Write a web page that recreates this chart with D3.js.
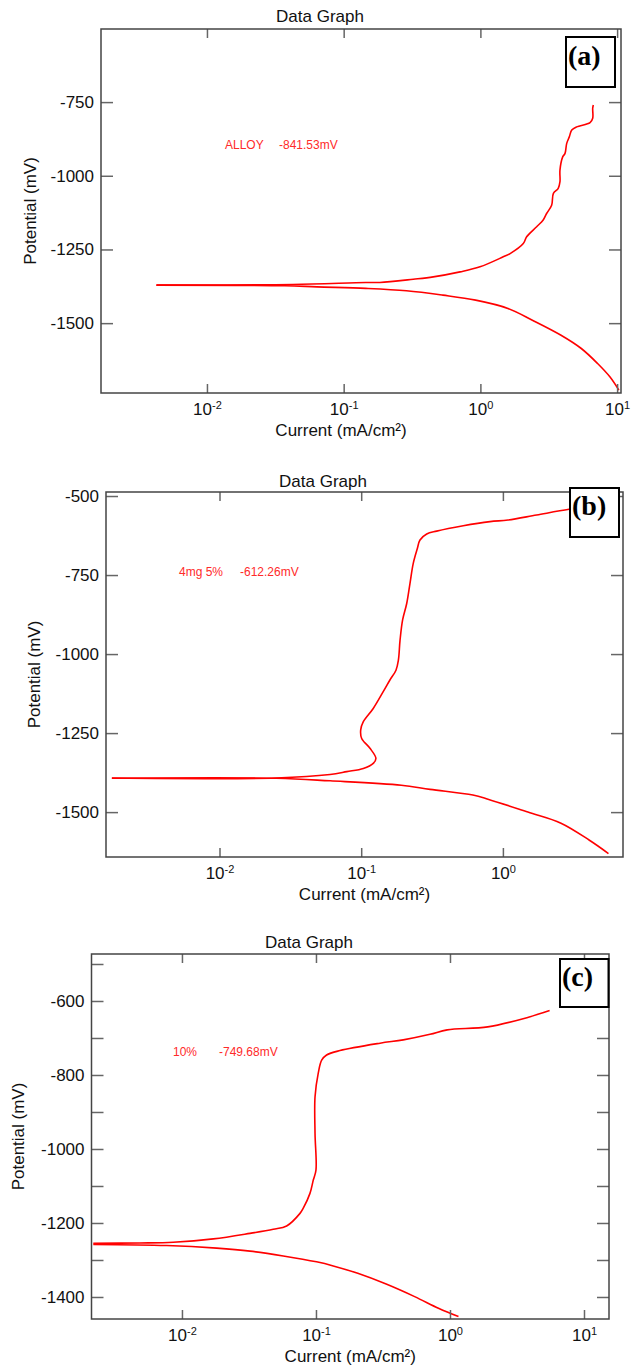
<!DOCTYPE html>
<html>
<head>
<meta charset="utf-8">
<style>
  body { margin: 0; background: #fff; }
  svg { display: block; font-family: "Liberation Sans", Arial, sans-serif; }
</style>
</head>
<body>
<div id="chart"></div>
<script src="https://d3js.org/d3.v7.min.js"></script>
<script>
// ---- data: [current mA/cm2, potential mV] ----
// (a) ALLOY
const alloyCathodic = [[10.3,-1727],[8.85,-1682],[7.2,-1637],[5.47,-1586],[3.89,-1541],[2.40,-1490],[1.59,-1450],[0.923,-1422],[0.532,-1405],[0.288,-1390],[0.145,-1382],[0.0638,-1377],[0.037,-1373],[0.00427,-1371]];
const alloyAnodic = [[0.00427,-1371],[0.0424,-1369],[0.145,-1362],[0.184,-1362],[0.323,-1351],[0.452,-1343],[0.710,-1326],[0.993,-1309],[1.47,-1275],[1.65,-1264],[2.06,-1230],[2.18,-1207],[2.58,-1173],[2.88,-1150],[3.05,-1128],[3.32,-1100],[3.42,-1060],[3.71,-1043],[3.82,-1020],[3.82,-981],[4.0,-936],[4.16,-924],[4.28,-890],[4.47,-868],[4.66,-845],[5.06,-834],[6.34,-820],[6.63,-805],[6.63,-771],[6.70,-760]];
// (b) 4mg 5%
const mg5Cathodic = [[5.56,-1631],[4.08,-1589],[2.57,-1535],[1.50,-1500],[0.785,-1459],[0.614,-1446],[0.306,-1428],[0.192,-1415],[0.0603,-1401],[0.0252,-1393],[0.00174,-1393]];
const mg5Anodic = [[0.00174,-1392],[0.0252,-1392],[0.0603,-1381],[0.0791,-1372],[0.1035,-1362],[0.1216,-1346],[0.127,-1330],[0.1153,-1298],[0.1008,-1267],[0.0992,-1240],[0.1035,-1214],[0.1216,-1172],[0.143,-1119],[0.1595,-1082],[0.176,-1051],[0.183,-1019],[0.188,-956],[0.196,-892],[0.2095,-840],[0.221,-776],[0.233,-713],[0.249,-666],[0.260,-639],[0.290,-620],[0.341,-611],[0.525,-594],[0.811,-581],[1.087,-576],[1.73,-560],[2.93,-542],[4.85,-528]];
// (c) 10%
const pct10Cathodic = [[1.157,-1453],[0.828,-1431],[0.545,-1399],[0.334,-1365],[0.205,-1336],[0.1346,-1316],[0.101,-1305],[0.0570,-1289],[0.0322,-1276],[0.01815,-1268],[0.00769,-1261],[0.00218,-1258]];
const pct10Anodic = [[0.00218,-1255],[0.00486,-1254],[0.00861,-1252],[0.01713,-1243],[0.0322,-1228],[0.048,-1217],[0.0604,-1208],[0.076,-1174],[0.0804,-1160],[0.0902,-1120],[0.0955,-1084],[0.1,-1057],[0.0984,-958],[0.0984,-859],[0.104,-795],[0.1103,-760],[0.120,-746],[0.151,-734],[0.301,-714],[0.448,-705],[0.710,-690],[0.953,-678],[1.914,-670],[3.85,-644],[5.54,-626]];

// ---- ticks and labels ----
const xTicks = [0.01, 0.1, 1, 10];
const yTicksA = [-750, -1000, -1250, -1500];
const yTicksB = [-500, -750, -1000, -1250, -1500];
const yTicksC = [-500, -600, -700, -800, -900, -1000, -1100, -1200, -1300, -1400];
const notesA = ["ALLOY", "-841.53mV"];
const notesB = ["4mg 5%", "-612.26mV"];
const notesC = ["10%", "-749.68mV"];

const W = 638, H = 1367;
const FS = 17;
const svg = d3.select("#chart").append("svg").attr("width", W).attr("height", H);
svg.append("rect").attr("width", W).attr("height", H).attr("fill", "#fff");

function drawPanel(p) {
  const x = d3.scaleLog().domain(p.xDomain).range([p.left, p.right]);
  const y = d3.scaleLinear().domain(p.yDomain).range([p.bottom, p.top]);
  const g = svg.append("g");
  const xt = xTicks.filter(d => d >= p.xDomain[0] && d <= p.xDomain[1] * 1.001);

  g.append("text").attr("x", p.titleX).attr("y", p.titleY)
    .attr("text-anchor", "middle").attr("font-size", FS).attr("fill", "#111")
    .text("Data Graph");

  // annotation
  g.append("text").attr("x", p.noteX[0]).attr("y", p.noteY).attr("font-size", 12)
    .attr("fill", "#ff2a2a").text(p.notes[0]);
  g.append("text").attr("x", p.noteX[1]).attr("y", p.noteY).attr("font-size", 12)
    .attr("fill", "#ff2a2a").text(p.notes[1]);

  const clipId = "clip" + p.id;
  g.append("clipPath").attr("id", clipId).append("rect")
    .attr("x", p.left).attr("y", p.top).attr("width", p.right - p.left).attr("height", p.bottom - p.top);

  const line = d3.line().x(d => x(d[0])).y(d => y(d[1])).curve(d3.curveCatmullRom.alpha(0.5));
  [p.cathodic, p.anodic].forEach(s => {
    g.append("path").datum(s).attr("clip-path", `url(#${clipId})`)
      .attr("fill", "none").attr("stroke", "#ff0000").attr("stroke-width", 1.6)
      .attr("d", line);
  });

  const tickStyle = sel => {
    sel.select(".domain").remove();
    sel.selectAll(".tick line").attr("stroke", "#666").attr("stroke-width", 1.5);
  };

  // left axis
  g.append("g").attr("transform", `translate(${p.left},0)`)
    .call(d3.axisLeft(y).tickValues(p.yTicks).tickSize(-12).tickPadding(7)
      .tickFormat(d => d % p.yLabelStep === 0 ? String(d) : ""))
    .call(tickStyle)
    .call(s => s.selectAll(".tick text").attr("font-size", FS).attr("fill", "#111")
      .style("font-family", "'Liberation Sans', Arial, sans-serif"));
  // right axis
  g.append("g").attr("transform", `translate(${p.right},0)`)
    .call(d3.axisRight(y).tickValues(p.yTicks).tickSize(-12).tickFormat(""))
    .call(tickStyle);
  // top axis
  g.append("g").attr("transform", `translate(0,${p.top})`)
    .call(d3.axisTop(x).tickValues(xt).tickSize(-9).tickFormat(""))
    .call(tickStyle);
  // bottom axis with power-of-ten labels
  g.append("g").attr("transform", `translate(0,${p.bottom})`)
    .call(d3.axisBottom(x).tickValues(xt).tickSize(-9).tickPadding(10).tickFormat(""))
    .call(tickStyle)
    .call(s => s.selectAll(".tick text").each(function (d) {
      const t = d3.select(this).attr("font-size", FS).attr("fill", "#111").attr("dy", "0.71em")
        .style("font-family", "'Liberation Sans', Arial, sans-serif");
      t.append("tspan").text("10");
      t.append("tspan").attr("font-size", 11).attr("dy", "-0.55em").text(String(Math.round(Math.log10(d))));
    }));

  // frame
  g.append("rect").attr("x", p.left).attr("y", p.top)
    .attr("width", p.right - p.left).attr("height", p.bottom - p.top)
    .attr("fill", "none").attr("stroke", "#444").attr("stroke-width", 1.5);

  // axis titles
  g.append("text").attr("x", (p.left + p.right) / 2 + p.xTitleShift).attr("y", p.bottom + 43)
    .attr("text-anchor", "middle").attr("font-size", FS).attr("fill", "#111")
    .text("Current (mA/cm²)");
  g.append("text")
    .attr("transform", `translate(${p.yTitleX},${(p.top + p.bottom) / 2}) rotate(-90)`)
    .attr("text-anchor", "middle").attr("font-size", FS).attr("fill", "#111")
    .text("Potential (mV)");

  // panel letter box
  g.append("rect").attr("x", p.box[0]).attr("y", p.box[1]).attr("width", p.box[2]).attr("height", p.box[3])
    .attr("fill", "#fff").attr("stroke", "#000").attr("stroke-width", 2);
  g.append("text").attr("x", p.box[0] + 2).attr("y", p.box[1] + p.letterDy)
    .style("font-family", "'Liberation Serif', 'Times New Roman', serif")
    .attr("font-weight", "bold").attr("font-size", 28).attr("fill", "#000")
    .text(p.letter);
}

drawPanel({
  id: "a", left: 101, right: 621, top: 29, bottom: 393,
  xDomain: [Math.pow(10, -2.775), Math.pow(10, 1.0285)], yDomain: [-1737, -502],
  yTicks: yTicksA, yLabelStep: 250, titleX: 320, titleY: 22,
  cathodic: alloyCathodic, anodic: alloyAnodic,
  notes: notesA, noteX: [225, 279], noteY: 149,
  xTitleShift: -20, yTitleX: 36,
  box: [566, 37, 49, 50], letter: "(a)", letterDy: 28
});
drawPanel({
  id: "b", left: 106, right: 623, top: 492, bottom: 857,
  xDomain: [Math.pow(10, -2.801), Math.pow(10, 0.8476)], yDomain: [-1642, -487.3],
  yTicks: yTicksB, yLabelStep: 250, titleX: 323, titleY: 487,
  cathodic: mg5Cathodic, anodic: mg5Anodic,
  notes: notesB, noteX: [179, 240], noteY: 576,
  xTitleShift: 0, yTitleX: 40,
  box: [570, 488, 49, 49], letter: "(b)", letterDy: 27
});
drawPanel({
  id: "c", left: 91.5, right: 609, top: 954, bottom: 1319,
  xDomain: [Math.pow(10, -2.675), Math.pow(10, 1.1866)], yDomain: [-1459.5, -473],
  yTicks: yTicksC, yLabelStep: 200, titleX: 309, titleY: 948,
  cathodic: pct10Cathodic, anodic: pct10Anodic,
  notes: notesC, noteX: [173, 219], noteY: 1056,
  xTitleShift: 0, yTitleX: 24,
  box: [560, 959, 48.5, 48], letter: "(c)", letterDy: 27
});
</script>
</body>
</html>
